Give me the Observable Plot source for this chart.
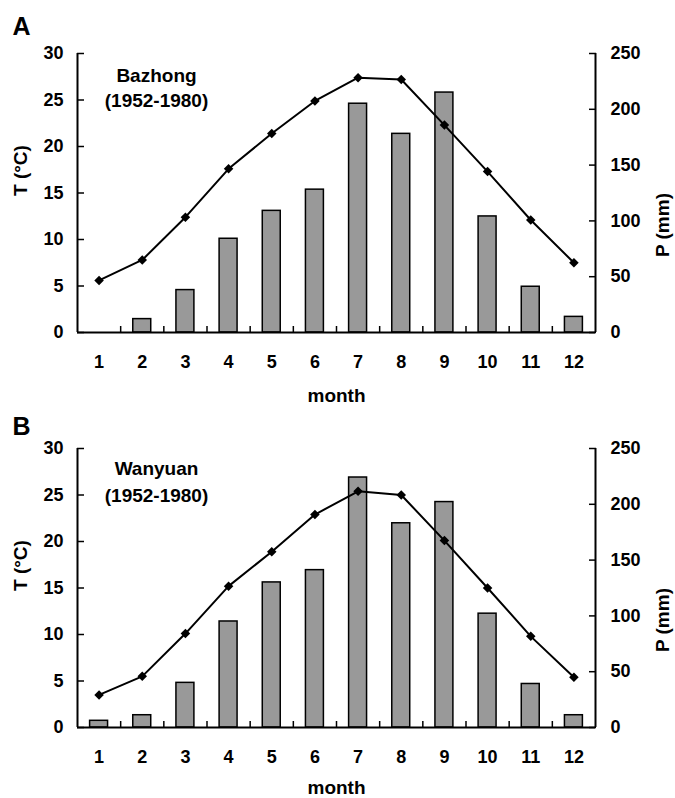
<!DOCTYPE html>
<html>
<head>
<meta charset="utf-8">
<script src="https://cdn.jsdelivr.net/npm/d3@7"></script>
<script src="https://cdn.jsdelivr.net/npm/@observablehq/plot@0.6"></script>
<style>
  html, body { margin: 0; padding: 0; background: #fff; }
  #chart svg { display: block; }
</style>
</head>
<body>
<div id="chart"></div>
<script>
// ---- data ----
const months = [1, 2, 3, 4, 5, 6, 7, 8, 9, 10, 11, 12];
const tempBazhong = [5.6, 7.8, 12.4, 17.6, 21.4, 24.9, 27.4, 27.2, 22.3, 17.3, 12.1, 7.5];
const precipBazhong = [0, 12, 38, 84, 109, 128, 205, 178, 215, 104, 41, 14];
const tempWanyuan = [3.5, 5.5, 10.1, 15.2, 18.9, 22.9, 25.4, 25.0, 20.1, 15.0, 9.8, 5.4];
const precipWanyuan = [6, 11, 40, 95, 130, 141, 224, 183, 202, 102, 39, 11];
const tTicks = [0, 5, 10, 15, 20, 25, 30];
const pTicks = [0, 50, 100, 150, 200, 250];
const panelLetters = ["A", "B"];
const stationNames = ["Bazhong", "Wanyuan"];
const periods = ["(1952-1980)", "(1952-1980)"];
const tLabel = "T (°C)";
const pLabel = "P (mm)";
const xLabel = "month";

const tMax = 30, pMax = 250;
const k = tMax / pMax; // map precipitation onto temperature scale

function panel(idx, temps, precs, m) {
  const data = months.map((mo, i) => ({m: mo, T: temps[i], P: precs[i]}));
  const bounds = months.slice(1).map(mo => mo - 0.5);
  const txt = {text: d => d, lineAnchor: "middle", fontWeight: "bold"};
  return Plot.plot({
    width: 675,
    height: m.height,
    marginTop: m.top,
    marginBottom: m.bottom,
    marginLeft: 77,
    marginRight: 80,
    style: {fontFamily: "'Liberation Sans', Arial, Helvetica, sans-serif", fontSize: "18px", fontWeight: "bold", color: "#000", background: "#fff", overflow: "visible"},
    x: {type: "linear", domain: [0.5, 12.5]},
    y: {domain: [0, tMax]},
    marks: [
      Plot.rectY(data, {x1: d => d.m - 0.5, x2: d => d.m + 0.5, y: d => d.P * k, insetLeft: 12.6, insetRight: 12.6, fill: "#999999", stroke: "#000", strokeWidth: 1.5}),
      Plot.line(data, {x: "m", y: "T", stroke: "#000", strokeWidth: 2}),
      Plot.dot(data, {x: "m", y: "T", symbol: "square", rotate: 45, r: 3.8, fill: "#000", stroke: "none"}),
      // axes lines
      Plot.ruleY([0], {stroke: "#000", strokeWidth: 2}),
      Plot.ruleX([0.5, 12.5], {stroke: "#000", strokeWidth: 2}),
      // left axis
      Plot.axisY({anchor: "left", ticks: tTicks, tickSize: -7, strokeWidth: 1.5, tickFormat: () => "", label: null}),
      Plot.axisY({anchor: "left", ticks: tTicks, tickSize: 0, tickPadding: 14, label: null, fontSize: 18}),
      // right axis (precipitation)
      Plot.axisY({anchor: "right", ticks: pTicks.map(p => p * k), tickSize: -7, strokeWidth: 1.5, tickFormat: () => "", label: null}),
      Plot.axisY({anchor: "right", ticks: pTicks.map(p => p * k), tickSize: 0, tickPadding: 15, tickFormat: d => String(Math.round(d / k)), label: null, fontSize: 18}),
      // x axis
      Plot.axisX({anchor: "bottom", ticks: bounds, tickSize: -6, strokeWidth: 1.5, tickFormat: () => "", label: null}),
      Plot.axisX({anchor: "bottom", ticks: months, tickSize: 0, tickPadding: 23, tickFormat: d => String(d), label: null, fontSize: 18}),
      // texts
      Plot.text([panelLetters[idx]], {...txt, frameAnchor: "top-left", dx: -65, dy: m.letterDy, textAnchor: "start", fontSize: 25}),
      Plot.text([stationNames[idx]], {...txt, frameAnchor: "top-left", dx: 79, dy: m.nameDy, textAnchor: "middle", fontSize: 19}),
      Plot.text([periods[idx]], {...txt, frameAnchor: "top-left", dx: 79, dy: m.periodDy, textAnchor: "middle", fontSize: 19}),
      Plot.text([tLabel], {...txt, frameAnchor: "left", dx: -57, dy: 3, rotate: -90, fontSize: 19}),
      Plot.text([pLabel], {...txt, frameAnchor: "right", dx: 67, rotate: -90, fontSize: 19}),
      Plot.text([xLabel], {...txt, frameAnchor: "bottom", dx: 0, dy: m.xLabelDy, fontSize: 19})
    ]
  });
}

const chart = document.getElementById("chart");
chart.append(panel(0, tempBazhong, precipBazhong, {height: 400, top: 53, bottom: 68, letterDy: -26.5, nameDy: 22, periodDy: 47, xLabelDy: 63}));
chart.append(panel(1, tempWanyuan, precipWanyuan, {height: 398, top: 48, bottom: 71, letterDy: -21.5, nameDy: 20.5, periodDy: 47, xLabelDy: 60.5}));
</script>
</body>
</html>
